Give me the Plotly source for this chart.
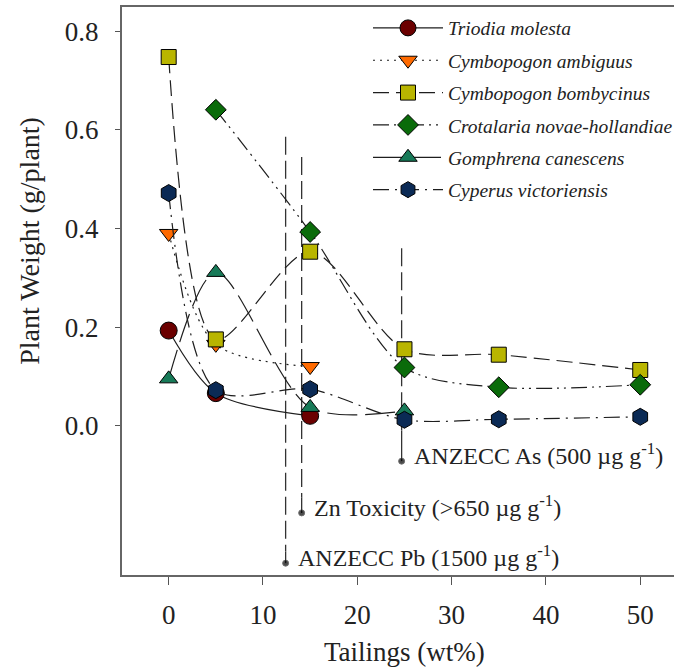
import plotly.graph_objects as go

# Plant dry weight (g/plant) against tailings content (wt%)
species = [
    "Triodia molesta",
    "Cymbopogon ambiguus",
    "Cymbopogon bombycinus",
    "Crotalaria novae-hollandiae",
    "Gomphrena canescens",
    "Cyperus victoriensis",
]

triodia_x = [0, 5, 15]
triodia_y = [0.193, 0.066, 0.02]

ambiguus_x = [0, 5, 15]
ambiguus_y = [0.39, 0.165, 0.12]

bombycinus_x = [0, 5, 15, 25, 35, 50]
bombycinus_y = [0.748, 0.175, 0.353, 0.155, 0.144, 0.113]

crotalaria_x = [5, 15, 25, 35, 50]
crotalaria_y = [0.641, 0.393, 0.118, 0.078, 0.083]

gomphrena_x = [0, 5, 15, 25]
gomphrena_y = [0.095, 0.311, 0.037, 0.03]

cyperus_x = [0, 5, 15, 25, 35, 50]
cyperus_y = [0.472, 0.072, 0.074, 0.012, 0.013, 0.018]

# Guideline concentrations expressed as tailings content
guide_x = [12.4, 14.1, 24.7]
guide_top = [0.586, 0.545, 0.36]
guide_end = [-0.279, -0.177, -0.072]
guide_solid_from = [-0.255, -0.145, -0.01]
guide_labels = [
    "ANZECC Pb (1500 µg g<sup>-1</sup>)",
    "Zn Toxicity (>650 µg g<sup>-1</sup>)",
    "ANZECC As (500 µg g<sup>-1</sup>)",
]

x_ticks = [0, 10, 20, 30, 40, 50]
y_ticks = [0.0, 0.2, 0.4, 0.6, 0.8]

SERIF = "Liberation Serif"
LINE = "#1e1e1e"

styles = [
    dict(symbol="circle", size=17, color="#6b0000", dash="solid"),
    dict(symbol="triangle-down", size=16, color="#ff6a00", dash="2px,5px"),
    dict(symbol="square", size=15, color="#b9b500", dash="16px,7px"),
    dict(symbol="diamond", size=16, color="#0a6b0a", dash="16px,5px,2px,5px,2px,5px"),
    dict(symbol="triangle-up", size=16, color="#177a58", dash="30px,8px"),
    dict(symbol="hexagon", size=17, color="#0b2a55", dash="16px,6px,2px,6px"),
]
series = [
    (triodia_x, triodia_y),
    (ambiguus_x, ambiguus_y),
    (bombycinus_x, bombycinus_y),
    (crotalaria_x, crotalaria_y),
    (gomphrena_x, gomphrena_y),
    (cyperus_x, cyperus_y),
]

fig = go.Figure()

# guideline markers: dashed drop lines ending in a dot
for gx, top, end, solid_from in zip(guide_x, guide_top, guide_end, guide_solid_from):
    fig.add_trace(go.Scatter(
        x=[gx, gx], y=[top, solid_from], mode="lines",
        line=dict(color="#333333", width=1.3, dash="18px,6px"),
        showlegend=False, hoverinfo="skip"))
    fig.add_trace(go.Scatter(
        x=[gx, gx], y=[solid_from, end], mode="lines+markers",
        line=dict(color="#333333", width=1.3),
        marker=dict(size=[0, 6], color="black"),
        showlegend=False, hoverinfo="skip"))

for i, (name, (xs, ys), st) in enumerate(zip(species, series, styles)):
    fig.add_trace(go.Scatter(
        x=xs, y=ys, name=name, mode="lines+markers",
        legendgroup=str(i),
        line=dict(color=LINE, width=1.2, dash=st["dash"], shape="spline", smoothing=0.85),
        marker=dict(symbol=st["symbol"], size=st["size"], color=st["color"],
                    line=dict(color="black", width=1)),
    ))

annotations = []
for gx, end, text in zip(guide_x, guide_end, guide_labels):
    annotations.append(dict(
        x=gx, y=end, xref="x", yref="y", text=text, showarrow=False,
        xanchor="left", yanchor="middle", xshift=10, yshift=7,
        font=dict(family=SERIF, size=24, color="#222222")))

annotations.append(dict(
    x=25, y=-0.136, xref="x", yref="paper", text="Tailings (wt%)",
    showarrow=False, xanchor="center", yanchor="middle",
    font=dict(family=SERIF, size=27, color="#222222")))
annotations.append(dict(
    x=-0.169, y=0.588, xref="paper", yref="paper", text="Plant Weight (g/plant)",
    showarrow=False, textangle=-90, xanchor="center", yanchor="middle",
    font=dict(family=SERIF, size=28, color="#222222")))

fig.update_layout(
    width=678, height=669,
    margin=dict(l=122, r=0, t=7, b=94),
    paper_bgcolor="white", plot_bgcolor="white",
    font=dict(family=SERIF, color="#222222"),
    annotations=annotations,
    legend=dict(
        x=0.446, y=0.997, xanchor="left", yanchor="top",
        font=dict(family=SERIF, size=19.5, color="#222222", style="italic"),
        bgcolor="rgba(0,0,0,0)", itemwidth=70, tracegroupgap=4,
        traceorder="grouped",
    ),
    xaxis=dict(
        range=[-4.95, 53.58], tickvals=x_ticks, ticks="outside", ticklen=8,
        tickwidth=1.3, tickcolor="#555555", showline=True, linecolor="#666666",
        linewidth=2, mirror=True, showgrid=False, zeroline=False,
        tickfont=dict(family=SERIF, size=27, color="#222222"),
        ticklabelstandoff=7,
    ),
    yaxis=dict(
        range=[-0.303, 0.8495], tickvals=y_ticks, tickformat=".1f",
        ticks="outside", ticklen=5, tickwidth=1.3, tickcolor="#555555",
        showline=True, linecolor="#666666", linewidth=2, showgrid=False,
        zeroline=False, tickfont=dict(family=SERIF, size=27, color="#222222"),
        ticklabelstandoff=11,
    ),
)

fig.write_html("out.html")
